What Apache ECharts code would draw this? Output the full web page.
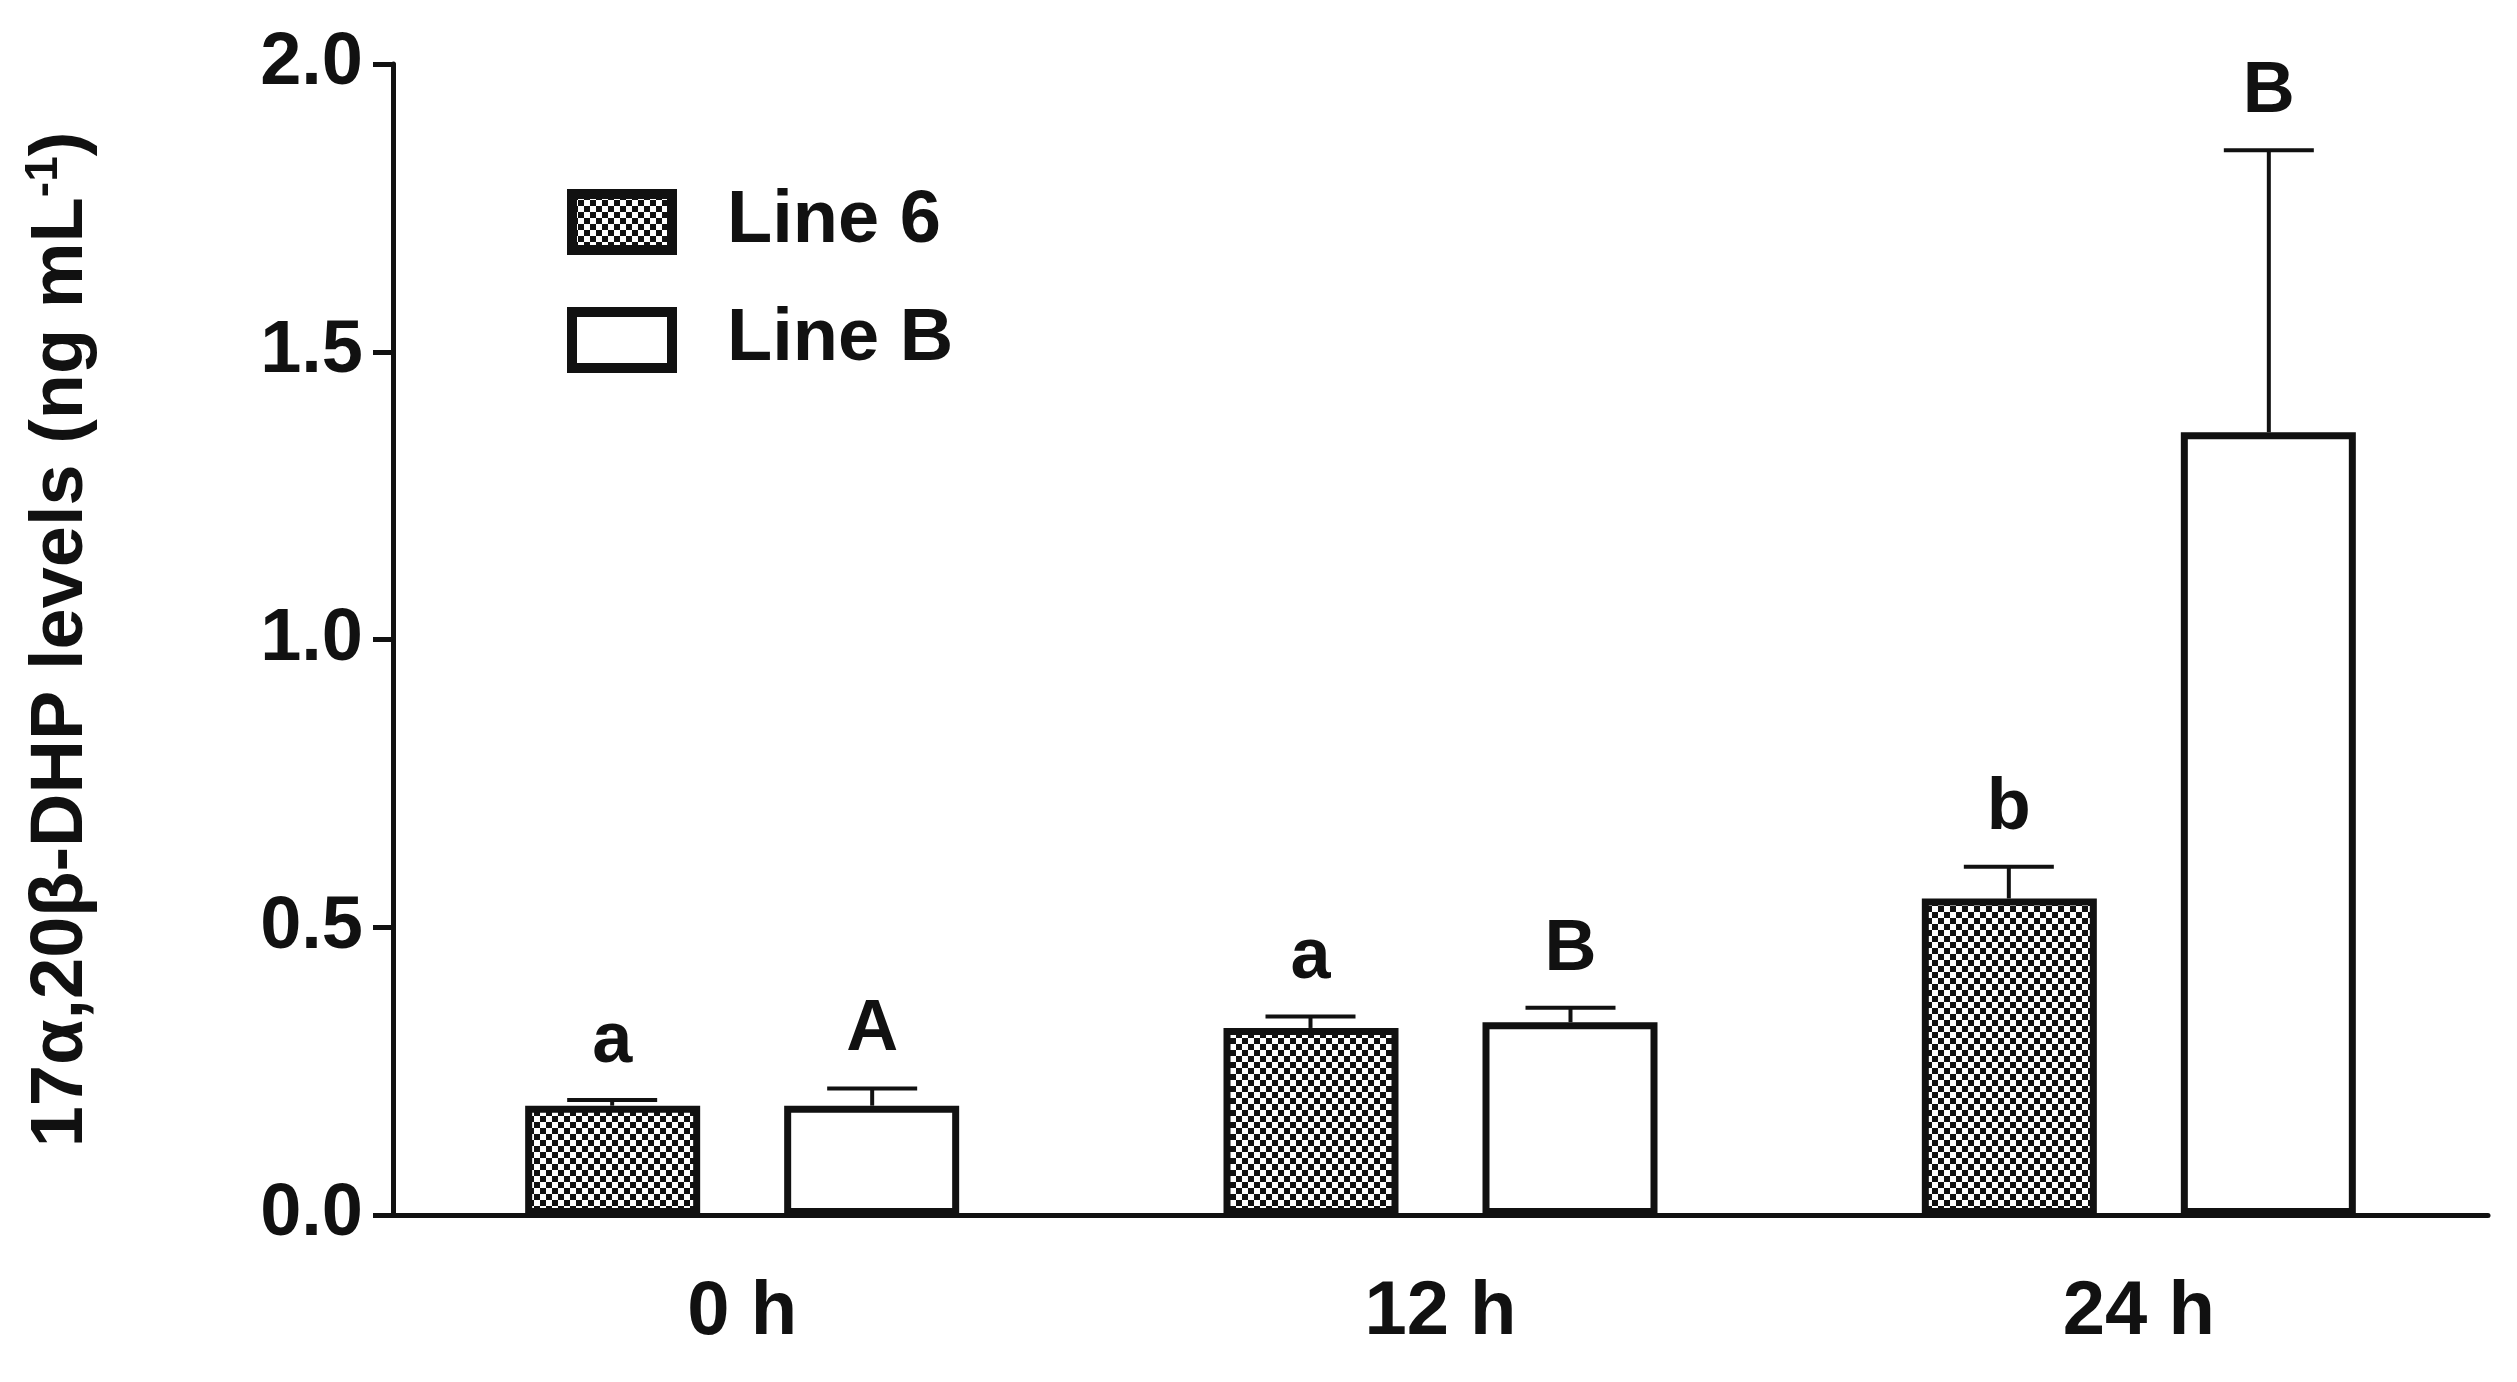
<!DOCTYPE html>
<html>
<head>
<meta charset="utf-8">
<script src="https://cdn.jsdelivr.net/npm/echarts@6/dist/echarts.min.js"></script>
<style>html,body{margin:0;background:#fff}#c{width:2517px;height:1382px}</style>
</head>
<body>
<div id="c"></div>
<script>
const categories = ["0 h", "12 h", "24 h"];
const line6 = [0.19, 0.325, 0.55];
const lineB = [0.19, 0.335, 1.36];
const line6Err = [0.2, 0.345, 0.605];
const lineBErr = [0.22, 0.36, 1.85];
const line6Letters = ["a", "a", "b"];
const lineBLetters = ["A", "B", "B"];

const BAR_W = 175;
const OFFSET = 130;
const FONT = "Liberation Sans, Arial";

// checkerboard fill for Line 6
const pat = document.createElement("canvas");
pat.width = 12; pat.height = 12;
const pctx = pat.getContext("2d");
pctx.fillStyle = "#fff"; pctx.fillRect(0, 0, 12, 12);
pctx.fillStyle = "#111";
pctx.fillRect(0, 0, 6, 6); pctx.fillRect(6, 6, 6, 6);

const errData = (vals, errs, letters) => vals.map((v, i) => [i, v, errs[i], letters[i]]);

const errSeries = (name, data, dx) => ({
  type: "custom",
  name: name + " err",
  z: 1,
  data,
  renderItem: (params, api) => {
    const base = api.coord([api.value(0), api.value(1)]);
    const top = api.coord([api.value(0), api.value(2)]);
    const x = base[0] + dx;
    const children = [];
    if (top[1] < base[1] - 2) {
      children.push(
        { type: "line", shape: { x1: x, y1: base[1], x2: x, y2: top[1] }, style: { stroke: "#111", lineWidth: 4 } },
        { type: "line", shape: { x1: x - 45, y1: top[1], x2: x + 45, y2: top[1] }, style: { stroke: "#111", lineWidth: 4 } }
      );
    }
    children.push({
      type: "text",
      style: {
        x, y: top[1] - 22, text: data[params.dataIndex][3],
        font: "bold 72px " + FONT, fill: "#111",
        align: "center", verticalAlign: "bottom"
      }
    });
    return { type: "group", children };
  }
});

const chart = echarts.init(document.getElementById("c"));
chart.setOption({
  animation: false,
  grid: { left: 393, right: 29, top: 64, bottom: 167 },
  legend: {
    left: 562, top: 180, orient: "vertical", itemGap: 44,
    itemWidth: 100, itemHeight: 56, icon: "rect",
    itemStyle: { borderWidth: 10, borderColor: "#111" },
    textStyle: { fontSize: 74, fontWeight: "bold", color: "#111", fontFamily: FONT, padding: [0, 0, 0, 50] },
    data: ["Line 6", "Line B"]
  },
  xAxis: {
    type: "category", data: categories,
    axisLine: { lineStyle: { color: "#111", width: 5 } },
    axisTick: { alignWithLabel: true, length: 18, lineStyle: { width: 5, color: "#111" } },
    axisLabel: { fontSize: 76, fontWeight: "bold", color: "#111", margin: 60, fontFamily: FONT }
  },
  yAxis: {
    type: "value", min: 0, max: 2, interval: 0.5,
    splitLine: { show: false },
    axisLine: { show: true, lineStyle: { color: "#111", width: 5 } },
    axisTick: { show: true, length: 20, lineStyle: { width: 5, color: "#111" } },
    axisLabel: { fontSize: 74, fontWeight: "bold", color: "#111", margin: 30, fontFamily: FONT,
      formatter: (v) => v.toFixed(1) },
    name: "{t|17α,20β-DHP levels (ng mL}{s|-1}{t|)}",
    nameLocation: "middle", nameGap: 290, nameRotate: 90,
    nameTextStyle: {
      rich: {
        t: { fontSize: 74, fontWeight: "bold", color: "#111", fontFamily: FONT },
        s: { fontSize: 46, fontWeight: "bold", color: "#111", fontFamily: FONT, verticalAlign: "top", padding: [0, 0, 36, 0] }
      }
    }
  },
  series: [
    { name: "Line 6", type: "bar", data: line6, barWidth: BAR_W, barGap: "48%", z: 2,
      itemStyle: { color: { image: pat, repeat: "repeat" }, borderColor: "#111", borderWidth: 7 } },
    { name: "Line B", type: "bar", data: lineB, barWidth: BAR_W, z: 2,
      itemStyle: { color: "#fff", borderColor: "#111", borderWidth: 7 } },
    errSeries("Line 6", errData(line6, line6Err, line6Letters), -OFFSET),
    errSeries("Line B", errData(lineB, lineBErr, lineBLetters), OFFSET)
  ]
});
</script>
</body>
</html>
